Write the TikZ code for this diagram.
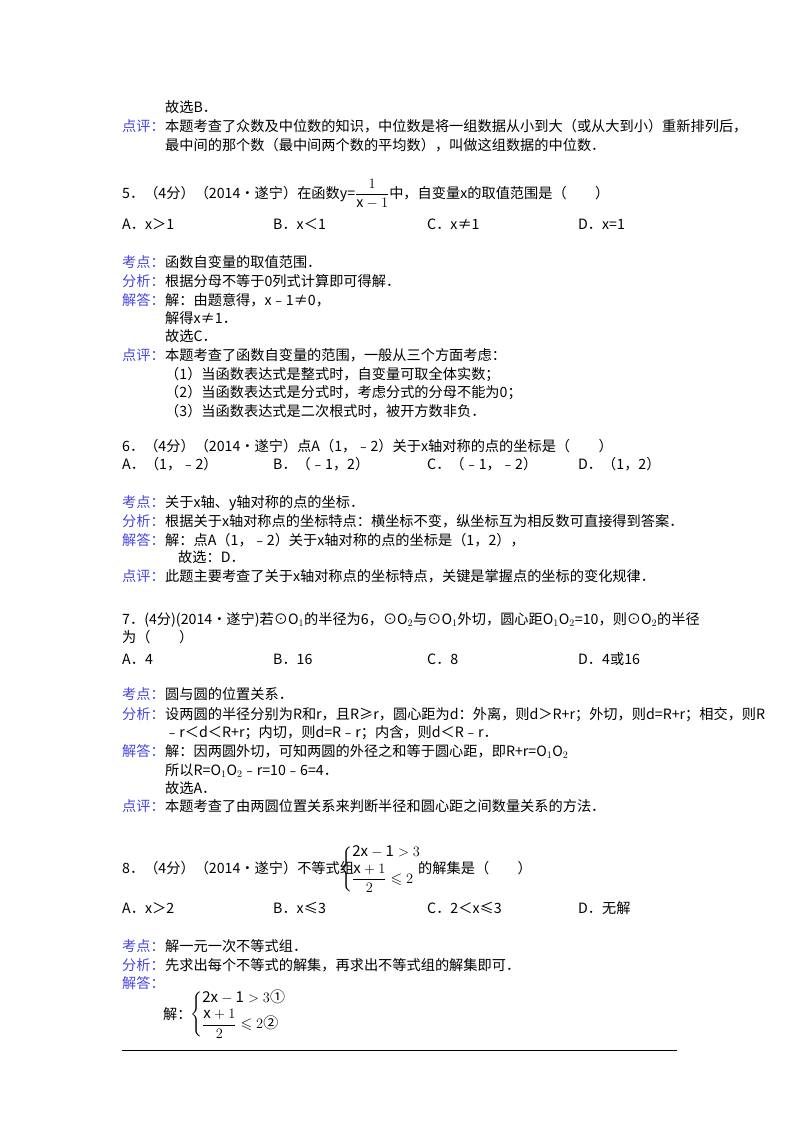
\documentclass[tikz,border=0pt]{standalone}
\usepackage{amsmath,amssymb}
\usepackage{fontspec}
\setmainfont{Noto Sans CJK SC}
\definecolor{labblue}{RGB}{70,70,225}
\begin{document}
\begin{tikzpicture}[x=1pt,y=-1pt,
 t/.style={anchor=base west,inner sep=0pt,font=\fontsize{14.2}{16}\selectfont},
 l/.style={t,text=labblue},
 sys/.style={anchor=west,inner sep=0pt,font=\fontsize{15}{17}\selectfont}]
\useasboundingbox (0,0) rectangle (800,1132);
\node[t] (a1) at (165,112) {故选B．};
\node[l] (p1) at (122,131) {点评：};
\node[t] (p1a) at (165,131) {本题考查了众数及中位数的知识，中位数是将一组数据从小到大（或从大到小）重新排列后，};
\node[t] (p1b) at (165,150) {最中间的那个数（最中间两个数的平均数），叫做这组数据的中位数．};
\node[t] (q5) at (122,198) {5．（4分）（2014•遂宁）在函数y=$\dfrac{1}{\mathrm{x}-1}$中，自变量x的取值范围是（\quad\quad）};
\node[t] (q5a) at (122,229) {A．x＞1};
\node[t] (q5b) at (273,229) {B．x＜1};
\node[t] (q5c) at (427,229) {C．x≠1};
\node[t] (q5d) at (578,229) {D．x=1};
\node[l] (k5) at (122,267) {考点：}; \node[t] at (165,267) {函数自变量的取值范围．};
\node[l] (f5) at (122,286) {分析：}; \node[t] at (165,286) {根据分母不等于0列式计算即可得解．};
\node[l] (j5) at (122,305) {解答：}; \node[t] at (165,305) {解：由题意得，x﹣1≠0，};
\node[t] at (165,323) {解得x≠1．};
\node[t] at (165,341) {故选C．};
\node[l] (d5) at (122,360) {点评：}; \node[t] at (165,360) {本题考查了函数自变量的范围，一般从三个方面考虑：};
\node[t] at (165,379) {（1）当函数表达式是整式时，自变量可取全体实数；};
\node[t] at (165,397) {（2）当函数表达式是分式时，考虑分式的分母不能为0；};
\node[t] at (165,416) {（3）当函数表达式是二次根式时，被开方数非负．};
\node[t] (q6) at (122,451) {6．（4分）（2014•遂宁）点A（1，﹣2）关于x轴对称的点的坐标是（\quad\quad）};
\node[t] at (122,469) {A．（1，﹣2）};
\node[t] at (273,469) {B．（﹣1，2）};
\node[t] at (427,469) {C．（﹣1，﹣2）};
\node[t] at (578,469) {D．（1，2）};
\node[l] at (122,507) {考点：}; \node[t] at (165,507) {关于x轴、y轴对称的点的坐标．};
\node[l] at (122,526) {分析：}; \node[t] at (165,526) {根据关于x轴对称点的坐标特点：横坐标不变，纵坐标互为相反数可直接得到答案．};
\node[l] at (122,545) {解答：}; \node[t] at (165,545) {解：点A（1，﹣2）关于x轴对称的点的坐标是（1，2），};
\node[t] at (178,562) {故选：D．};
\node[l] at (122,581) {点评：}; \node[t] at (165,581) {此题主要考查了关于x轴对称点的坐标特点，关键是掌握点的坐标的变化规律．};
\node[t] (q7) at (122,624) {7．(4分)(2014•遂宁)若⊙O$_1$的半径为6，⊙O$_2$与⊙O$_1$外切，圆心距O$_1$O$_2$=10，则⊙O$_2$的半径};
\node[t] at (122,642) {为（\quad\quad）};
\node[t] at (122,664) {A．4};
\node[t] at (273,664) {B．16};
\node[t] at (427,664) {C．8};
\node[t] at (578,664) {D．4或16};
\node[l] at (122,699) {考点：}; \node[t] at (165,699) {圆与圆的位置关系．};
\node[l] at (122,719) {分析：}; \node[t] at (165,719) {设两圆的半径分别为R和r，且R≥r，圆心距为d：外离，则d＞R+r；外切，则d=R+r；相交，则R};
\node[t] at (165,737) {﹣r＜d＜R+r；内切，则d=R﹣r；内含，则d＜R﹣r．};
\node[l] at (122,756) {解答：}; \node[t] at (165,756) {解：因两圆外切，可知两圆的外径之和等于圆心距，即R+r=O$_1$O$_2$};
\node[t] at (165,775) {所以R=O$_1$O$_2$﹣r=10﹣6=4．};
\node[t] at (165,793) {故选A．};
\node[l] at (122,811) {点评：}; \node[t] at (165,811) {本题考查了由两圆位置关系来判断半径和圆心距之间数量关系的方法．};
\node[t] (q8) at (122,873) {8．（4分）（2014•遂宁）不等式组};
\node[sys] (sys8) at (340,869) {$\left\{\begin{array}{@{}l}\mathrm{2x-1}>3\\[2pt] \dfrac{\mathrm{x}+1}{2}\leqslant 2\end{array}\right.$};
\node[t] at (418,873) {的解集是（\quad\quad）};
\node[t] at (122,913) {A．x＞2};
\node[t] at (273,913) {B．x≤3};
\node[t] at (427,913) {C．2＜x≤3};
\node[t] at (578,913) {D．无解};
\node[l] at (122,951) {考点：}; \node[t] at (165,951) {解一元一次不等式组．};
\node[l] at (122,970) {分析：}; \node[t] at (165,970) {先求出每个不等式的解集，再求出不等式组的解集即可．};
\node[l] at (122,988) {解答：};
\node[t] at (163,1019) {解：};
\node[sys] (sys9) at (190,1014) {$\left\{\begin{array}{@{}l}\mathrm{2x-1}>3\text{①}\\[2pt] \dfrac{\mathrm{x}+1}{2}\leqslant 2\text{②}\end{array}\right.$};
\coordinate (r1) at (122,1050); \coordinate (r2) at (677,1050);
\draw[line width=0.8pt] (r1) -- (r2);
\end{tikzpicture}
\end{document}
